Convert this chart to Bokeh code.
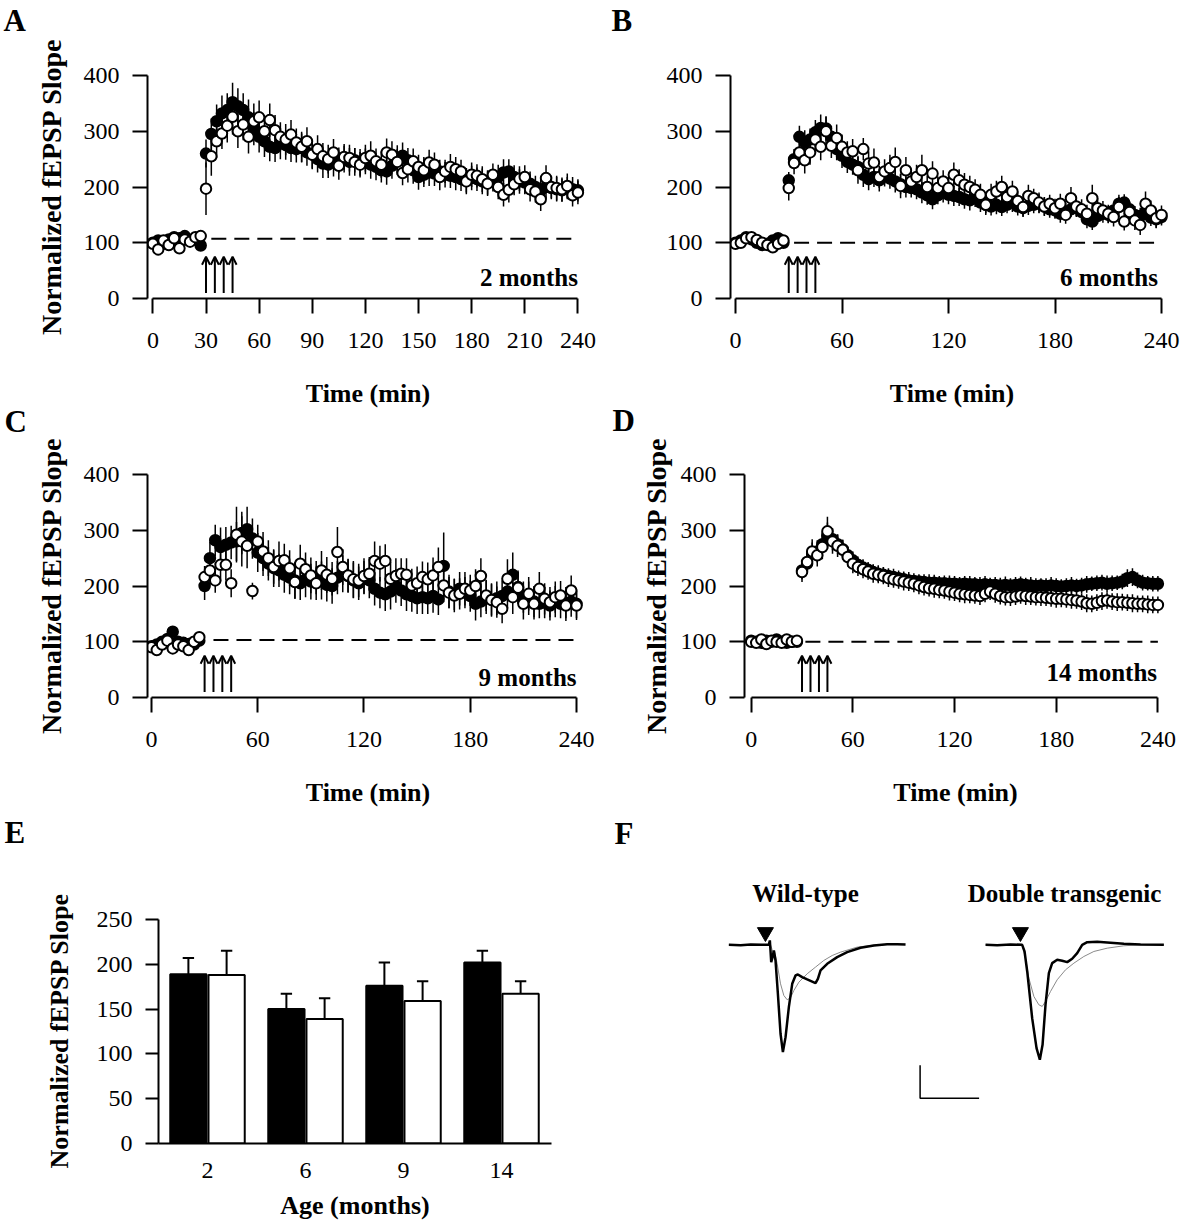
import numpy as np
from bokeh.plotting import figure
from bokeh.models import ColumnDataSource, FixedTicker, Arrow, OpenHead, Range1d
from bokeh.layouts import column, row
from bokeh.embed import file_html
from bokeh.resources import INLINE
from bokeh.core.properties import value

FONT = "Liberation Serif"

# ---------------- data ----------------
TIME = list(range(0, 241, 3))          # min
STIM = [30, 35, 40, 45]                # tetanus trains (min)

A_WT = [100, 104, 98, 106, 110, 108, 112, 104, 106, 95,
        260, 295, 318, 332, 338, 352, 345, 338, 325, 305,
        290, 282, 272, 270, 278, 275, 270, 268, 270, 262,
        258, 250, 242, 240, 244, 248, 250, 245, 248, 244,
        246, 240, 236, 230, 228, 238, 250, 256, 248, 230,
        218, 222, 226, 224, 228, 222, 220, 218, 214, 212,
        216, 214, 210, 208, 212, 218, 226, 228, 218, 210,
        208, 206, 200, 194, 200, 198, 196, 194, 198, 196,
        194]
A_TG = [98, 88, 104, 96, 108, 90, 106, 102, 110, 112,
        197, 255, 282, 296, 310, 326, 300, 312, 290, 318,
        325, 300, 320, 302, 290, 285, 294, 280, 272, 282,
        258, 268, 255, 250, 262, 238, 254, 252, 245, 240,
        252, 256, 246, 240, 262, 258, 245, 225, 232, 246,
        236, 230, 244, 240, 218, 228, 236, 232, 228, 210,
        222, 220, 214, 206, 222, 200, 186, 195, 205, 215,
        218, 196, 192, 178, 216, 200, 198, 196, 202, 185,
        190]
A_WT_SEM = [6, 7, 5, 8, 6, 7, 6, 8, 7, 6,
            25, 28, 30, 32, 30, 35, 32, 30, 32, 30,
            28, 28, 26, 25, 28, 26, 25, 24, 26, 24,
            25, 24, 26, 24, 25, 23, 24, 25, 22, 24,
            23, 25, 24, 22, 24, 23, 25, 24, 22, 24,
            23, 22, 24, 22, 21, 23, 22, 24, 21, 22,
            22, 21, 23, 22, 20, 22, 24, 22, 21, 22,
            21, 22, 20, 22, 21, 20, 22, 21, 20, 22,
            20]
A_TG_SEM = [8, 9, 7, 8, 9, 8, 7, 9, 8, 7,
            47, 35, 30, 28, 30, 32, 30, 28, 30, 32,
            30, 28, 30, 27, 26, 28, 26, 25, 27, 25,
            26, 25, 24, 26, 24, 25, 23, 24, 25, 23,
            24, 26, 23, 24, 25, 24, 23, 22, 24, 23,
            22, 24, 23, 22, 24, 21, 23, 22, 21, 23,
            22, 21, 23, 22, 20, 22, 21, 23, 20, 22,
            21, 22, 20, 21, 23, 20, 22, 21, 22, 20,
            21]

B_WT = [100, 104, 110, 106, 100, 96, 98, 104, 108, 100,
        212, 250, 290, 280, 285, 298, 306, 305, 290, 268,
        256, 245, 240, 236, 222, 214, 218, 212, 220, 215,
        210, 205, 200, 198, 196, 190, 185, 178, 185, 190,
        186, 184, 182, 178, 176, 180, 172, 168, 165, 168,
        164, 168, 172, 165, 162, 166, 168, 170, 165, 160,
        158, 152, 156, 160, 162, 155, 142, 138, 148, 152,
        150, 158, 170, 172, 160, 150, 148, 155, 145, 142,
        146]
B_TG = [98, 100, 108, 110, 105, 100, 96, 92, 98, 104,
        198, 243, 262, 248, 262, 285, 272, 300, 274, 288,
        272, 262, 264, 230, 268, 242, 244, 218, 228, 234,
        245, 202, 230, 210, 218, 230, 200, 224, 198, 210,
        198, 222, 212, 204, 200, 195, 186, 168, 186, 192,
        200, 182, 192, 175, 164, 184, 180, 172, 165, 170,
        162, 170, 150, 180, 165, 160, 152, 180, 162, 158,
        152, 146, 164, 138, 155, 140, 132, 170, 158, 144,
        150]
B_WT_SEM = [5, 6, 5, 7, 6, 5, 6, 7, 5, 6,
            15, 18, 20, 22, 20, 22, 24, 22, 20, 20,
            22, 20, 18, 20, 22, 20, 18, 20, 19, 18,
            20, 18, 19, 17, 18, 19, 17, 18, 16, 18,
            17, 18, 16, 17, 18, 16, 17, 15, 16, 17,
            16, 15, 17, 16, 15, 16, 15, 17, 16, 15,
            15, 16, 15, 14, 16, 15, 16, 15, 14, 16,
            15, 14, 16, 15, 14, 16, 15, 14, 15, 16,
            15]
B_TG_SEM = [6, 7, 6, 8, 7, 6, 7, 8, 6, 7,
            22, 20, 22, 24, 22, 25, 24, 26, 22, 24,
            22, 20, 22, 24, 20, 22, 25, 20, 22, 24,
            26, 22, 24, 20, 22, 28, 20, 22, 21, 20,
            20, 22, 20, 21, 20, 19, 20, 18, 20, 19,
            20, 18, 19, 17, 18, 20, 17, 18, 17, 16,
            17, 18, 16, 20, 17, 18, 16, 24, 18, 17,
            16, 17, 18, 16, 18, 17, 18, 22, 18, 17,
            17]

C_WT = [92, 95, 100, 105, 118, 100, 98, 96, 95, 102,
        200, 250, 282, 270, 274, 278, 280, 295, 302, 285,
        260, 250, 240, 232, 228, 220, 215, 210, 205, 212,
        208, 215, 210, 202, 200, 215, 222, 218, 210, 205,
        215, 210, 195, 188, 185, 190, 200, 192, 185, 182,
        178, 180, 178, 182, 176, 236, 190, 185, 195, 188,
        182, 168, 172, 180, 175, 178, 182, 190, 220, 198,
        180, 178, 172, 168, 170, 165, 172, 168, 170, 172,
        168]
C_TG = [90, 85, 95, 102, 88, 95, 92, 85, 100, 108,
        216, 228, 210, 238, 238, 205, 292, 280, 272, 191,
        280, 262, 250, 234, 245, 246, 232, 207, 240, 230,
        219, 205, 228, 220, 213, 261, 234, 219, 212, 210,
        218, 222, 245, 240, 245, 213, 218, 222, 220, 201,
        205, 216, 212, 219, 234, 201, 188, 183, 186, 195,
        192, 200, 218, 183, 175, 171, 159, 213, 180, 197,
        168, 186, 168, 195, 177, 171, 180, 183, 165, 192,
        165]
C_WT_SEM = [8, 7, 9, 8, 10, 8, 7, 9, 8, 7,
            25, 30, 28, 35, 32, 30, 35, 38, 40, 36,
            35, 32, 30, 34, 30, 32, 30, 33, 30, 32,
            32, 30, 34, 30, 32, 30, 33, 30, 32, 30,
            30, 32, 30, 28, 30, 32, 30, 28, 30, 28,
            28, 30, 28, 30, 28, 60, 30, 28, 30, 28,
            28, 30, 28, 30, 28, 30, 28, 30, 40, 30,
            28, 30, 28, 26, 28, 27, 28, 26, 28, 27,
            26]
C_TG_SEM = [9, 8, 10, 9, 8, 10, 9, 8, 9, 8,
            20, 25, 22, 30, 28, 25, 50, 45, 40, 15,
            30, 35, 32, 30, 35, 30, 32, 30, 34, 30,
            32, 30, 35, 32, 30, 45, 32, 30, 33, 30,
            32, 30, 35, 32, 30, 30, 32, 28, 30, 30,
            30, 28, 30, 32, 35, 30, 28, 30, 28, 30,
            28, 30, 32, 28, 30, 28, 26, 35, 30, 28,
            28, 30, 28, 30, 28, 27, 28, 26, 28, 27,
            26]

D_WT = [102, 100, 98, 102, 100, 104, 100, 98, 100, 100,
        228, 240, 258, 262, 275, 290, 284, 275, 266, 255,
        246, 238, 233, 229, 225, 222, 220, 218, 216, 214,
        212, 210, 209, 208, 207, 206, 206, 205, 205, 204,
        204, 203, 204, 203, 203, 202, 203, 202, 202, 201,
        202, 201, 202, 203, 202, 201, 200, 201, 200, 201,
        200, 199, 200, 201, 200, 201, 203, 204, 205, 206,
        204, 205, 206, 208, 214, 216, 210, 206, 205, 204,
        204]
D_TG = [100, 98, 104, 96, 102, 100, 98, 104, 100, 102,
        225, 243, 262, 255, 270, 298, 280, 272, 265, 252,
        240, 234, 230, 226, 222, 220, 218, 214, 212, 210,
        208, 206, 204, 201, 198, 196, 195, 193, 192, 190,
        188, 186, 185, 184, 183, 182, 186, 190, 186, 182,
        180, 180, 181, 183, 182, 181, 180, 180, 179, 178,
        177, 177, 176, 175, 174, 172, 169, 168, 170, 173,
        174, 172, 171, 171, 170, 169, 168, 168, 167, 166,
        166]
D_WT_SEM = [4, 5, 4, 5, 4, 5, 4, 5, 4, 5,
            16, 18, 20, 20, 22, 24, 20, 18, 17, 16,
            16, 15, 15, 14, 14, 15, 14, 14, 15, 14,
            14, 15, 14, 13, 14, 15, 14, 13, 14, 15,
            14, 13, 14, 15, 13, 14, 15, 13, 14, 14,
            15, 13, 14, 14, 13, 15, 14, 13, 14, 15,
            14, 13, 14, 15, 13, 14, 15, 13, 14, 14,
            15, 14, 13, 14, 16, 16, 14, 14, 13, 14,
            14]
D_TG_SEM = [5, 6, 5, 6, 5, 6, 5, 6, 5, 6,
            18, 20, 22, 20, 22, 26, 22, 20, 18, 17,
            17, 16, 16, 15, 16, 15, 15, 16, 15, 15,
            16, 15, 15, 16, 15, 15, 16, 15, 15, 16,
            15, 15, 16, 15, 15, 16, 15, 15, 16, 15,
            15, 16, 15, 15, 16, 15, 15, 16, 15, 15,
            16, 15, 15, 16, 15, 15, 16, 15, 15, 16,
            15, 15, 16, 15, 15, 16, 15, 15, 16, 15,
            15]

BASELINE = [107, 100, 103, 100]
AGE_TEXT = ["2 months", "6 months", "9 months", "14 months"]

# panel E
AGE = ["2", "6", "9", "14"]
WT_MEAN = [189, 150, 176, 202]
WT_SEM = [18, 17, 26, 13]
TG_MEAN = [188, 139, 159, 167]
TG_SEM = [27, 23, 22, 14]

# panel F  (time in ms from stimulus, amplitude in mV)
WT_THICK_T = [-6.5, -4.5, -2.8, -0.85, 0.28, 0.45, 0.56, 0.68, 0.9, 1.13, 1.41, 1.81, 2.26, 2.66, 3.11,
              3.67, 4.24, 4.8, 5.2, 5.93, 6.78, 8.19, 8.59, 9.04, 10.17, 11.86, 13.56, 15.82, 18.08,
              20.34, 22.03, 23.45]
WT_THICK_V = [0, -0.005, 0.005, 0, 0, 0.066, -0.086, -0.263, -0.187, -0.086, -0.237, -0.742, -1.348,
              -1.626, -1.399, -0.944, -0.591, -0.465, -0.449, -0.49, -0.525, -0.581, -0.515, -0.389,
              -0.288, -0.187, -0.111, -0.045, -0.01, 0.01, 0.01, 0.005]
WT_THIN_T = [-6.5, -0.85, 0.56, 0.85, 1.02, 1.24, 1.69, 2.26, 2.82, 3.39, 3.95, 4.52, 5.37, 6.78, 8.19,
             9.6, 11.02, 12.43, 15.25, 18.08, 20.34]
WT_THIN_V = [0, 0, 0, -0.076, -0.136, -0.096, -0.288, -0.591, -0.768, -0.833, -0.803, -0.692, -0.566,
             -0.439, -0.338, -0.237, -0.162, -0.111, -0.035, -0.005, 0.005]
DT_THICK_T = [-6.21, -4.24, -1.98, 0, 0.4, 0.85, 1.69, 2.43, 2.99, 3.45, 3.95, 4.52, 5.08, 5.93, 6.78,
              7.63, 8.47, 9.32, 10.17, 11.02, 12.71, 14.97, 17.23, 20.06, 24.01]
DT_THICK_V = [0, -0.005, 0.005, 0, -0.101, -0.404, -1.111, -1.566, -1.742, -1.515, -0.909, -0.429,
              -0.278, -0.227, -0.242, -0.263, -0.212, -0.126, 0, 0.04, 0.045, 0.03, 0.015, 0.005, 0]
DT_THIN_T = [-6.21, 0, 0.56, 1.13, 1.98, 2.82, 3.39, 3.95, 4.8, 5.93, 7.34, 8.76, 10.45, 12.15, 14.41,
             17.23, 20.06, 24.01]
DT_THIN_V = [0, 0, -0.202, -0.505, -0.783, -0.909, -0.934, -0.859, -0.707, -0.53, -0.379, -0.278,
             -0.177, -0.101, -0.051, -0.015, 0, 0]
SCALE_MS = 10
SCALE_MV = 0.5

PANEL_LETTERS_L = ["A", "C", "E"]
PANEL_LETTERS_R = ["B", "D", "F"]

TICK_FONT = "24px"
LW = 32        # width of the panel-letter strips
PAGE_H = 1222
R1, R2, R3 = 0, 411, 812   # row tops (page pixels)


# ---------------- helpers ----------------
def bare_fig(w, h, xr, yr):
    p = figure(width=w, height=h, x_range=Range1d(*xr), y_range=Range1d(*yr),
               x_axis_type=None, y_axis_type=None, output_backend="svg", toolbar_location=None,
               title=None, min_border_left=0, min_border_right=0, min_border_top=0, min_border_bottom=0)
    p.outline_line_color = None
    return p


def letter_strip(letters, xs, ys):
    p = bare_fig(LW, PAGE_H, (0, LW), (PAGE_H, 0))
    p.text(x=xs, y=ys, text=letters, text_align="left", text_baseline="middle",
           text_font=value(FONT), text_font_style="bold", text_font_size="31px", text_color="black")
    return column(p)


def style_axis(ax, tick_out):
    ax.axis_line_width = 2
    ax.axis_line_color = "black"
    ax.major_tick_line_width = 2
    ax.major_tick_line_color = "black"
    ax.major_tick_out = tick_out
    ax.major_tick_in = 0
    ax.minor_tick_out = 0
    ax.minor_tick_in = 0
    ax.major_label_text_font = FONT
    ax.major_label_text_font_size = TICK_FONT
    ax.major_label_text_color = "black"
    ax.axis_label_text_font = FONT
    ax.axis_label_text_font_style = "bold"
    ax.axis_label_text_color = "black"


def timecourse(g, wt, tg, wt_sem, tg_sem, base, age_text, age_pos, xticks, ylabel, ylab_standoff,
               dash_start):
    fw, fh = 443, 224
    sx, sy = g["sx"], g["sy"]
    x_start = -(g["x0"] - g["fl"]) / sx
    x_end = x_start + fw / sx
    y_end = fh / sy
    left = g["fl"] - g["ox"]
    top = g["fb"] - fh - g["oy"]
    p = figure(width=g["w"], height=g["h"], x_range=Range1d(x_start, x_end), y_range=Range1d(0, y_end),
               output_backend="svg", toolbar_location=None, title=None,
               min_border_left=left, min_border_right=g["w"] - left - fw,
               min_border_top=top, min_border_bottom=g["h"] - top - fh)
    p.grid.visible = False
    p.outline_line_color = None
    style_axis(p.xaxis[0], 15)
    style_axis(p.yaxis[0], 15)
    p.xaxis.ticker = FixedTicker(ticks=xticks)
    p.yaxis.ticker = FixedTicker(ticks=[0, 100, 200, 300, 400])
    p.xaxis.bounds = (0, 240)
    p.yaxis.bounds = (0, 400)
    p.xaxis.major_label_standoff = 19
    p.yaxis.major_label_standoff = 13
    p.xaxis.axis_label = "Time (min)"
    p.xaxis.axis_label_text_font_size = "26px"
    p.xaxis.axis_label_standoff = 28
    if ylabel:
        p.yaxis.axis_label = "Normalized fEPSP Slope"
        p.yaxis.axis_label_text_font_size = "28px"
        p.yaxis.axis_label_standoff = ylab_standoff

    t = np.array(TIME, dtype=float)
    srcs = []
    for vals, sem in [(wt, wt_sem), (tg, tg_sem)]:
        v = np.array(vals, dtype=float)
        e = np.array(sem, dtype=float)
        srcs.append(ColumnDataSource(dict(t=t, v=v, lo=v - e, hi=v + e)))
    for s in srcs:
        p.segment(x0="t", y0="lo", x1="t", y1="hi", source=s, line_color="black", line_width=1.5)
    p.scatter(x="t", y="v", source=srcs[0], marker="circle", size=10.5, fill_color="black",
              line_color="black", line_width=2)
    p.scatter(x="t", y="v", source=srcs[1], marker="circle", size=10.5, fill_color="white",
              line_color="black", line_width=2)

    p.segment(x0=[dash_start], y0=[base], x1=[240], y1=[base], line_color="black", line_width=2,
              line_dash="15 8")

    asrc = ColumnDataSource(dict(x=STIM, y0=[10] * len(STIM), y1=[75] * len(STIM)))
    p.add_layout(Arrow(end=OpenHead(size=8, line_width=2, line_color="black"), source=asrc,
                       x_start="x", y_start="y0", x_end="x", y_end="y1",
                       line_width=2, line_color="black"))

    p.text(x=[age_pos[0]], y=[age_pos[1]], text=[age_text], text_align="right", text_baseline="middle",
           text_font=value(FONT), text_font_style="bold", text_font_size="25px", text_color="black")
    return p


# page geometry (page pixels): figure origin, size, frame left, frame bottom, pixel of t=0, scales
GA = dict(ox=LW, oy=R1, w=605 - LW, h=R2 - R1, fl=145, fb=298, x0=150.4, sx=1.779, sy=0.5575)
GB = dict(ox=605 + LW, oy=R1, w=593 - LW, h=R2 - R1, fl=730, fb=298, x0=735, sx=1.775, sy=0.5575)
GC = dict(ox=LW, oy=R2, w=605 - LW, h=R3 - R2, fl=145, fb=697, x0=149, sx=1.779, sy=0.5575)
GD = dict(ox=605 + LW, oy=R2, w=593 - LW, h=R3 - R2, fl=723, fb=697, x0=730, sx=1.779, sy=0.5575)

XT30 = list(range(0, 241, 30))
XT60 = list(range(0, 241, 60))

pA = timecourse(GA, A_WT, A_TG, A_WT_SEM, A_TG_SEM, BASELINE[0], AGE_TEXT[0], (240, 38), XT30,
                True, 14, 33)
pB = timecourse(GB, B_WT, B_TG, B_WT_SEM, B_TG_SEM, BASELINE[1], AGE_TEXT[1], (238, 38), XT60,
                False, 0, 33)
pC = timecourse(GC, C_WT, C_TG, C_WT_SEM, C_TG_SEM, BASELINE[2], AGE_TEXT[2], (240, 36), XT60,
                True, 14, 35)
pD = timecourse(GD, D_WT, D_TG, D_WT_SEM, D_TG_SEM, BASELINE[3], AGE_TEXT[3], (239.5, 45), XT60,
                True, 6, 32)

# ---------------- panel E ----------------
E_oy, E_h, E_w = R3, PAGE_H - R3, 605 - LW
E_fl, E_fb, E_sx, E_sy = 158, 1143, 98.0, 0.896
E_fw, E_fh = 393, 226
E_left = E_fl - LW
E_top = E_fb - E_fh - E_oy
pE = figure(width=E_w, height=E_h, x_range=Range1d(0, E_fw / E_sx), y_range=Range1d(0, E_fh / E_sy),
            output_backend="svg", toolbar_location=None, title=None,
            min_border_left=E_left, min_border_right=E_w - E_left - E_fw,
            min_border_top=E_top, min_border_bottom=E_h - E_top - E_fh)
pE.grid.visible = False
pE.outline_line_color = None
style_axis(pE.xaxis[0], 0)
style_axis(pE.yaxis[0], 13)
pE.yaxis.ticker = FixedTicker(ticks=[0, 50, 100, 150, 200, 250])
pE.yaxis.bounds = (0, 250)
pE.yaxis.major_label_standoff = 13
pE.yaxis.axis_label = "Normalized fEPSP Slope"
pE.yaxis.axis_label_text_font_size = "26px"
pE.yaxis.axis_label_standoff = 20
xc = np.arange(len(AGE)) + 0.5
pE.xaxis.ticker = FixedTicker(ticks=list(xc))
pE.xaxis.major_label_overrides = {float(x): a for x, a in zip(xc, AGE)}
pE.xaxis.major_label_standoff = 19
pE.xaxis.axis_label = "Age (months)"
pE.xaxis.axis_label_text_font_size = "26px"
pE.xaxis.axis_label_standoff = 10

OFF, BW, CAP = 0.195, 0.37, 0.058
for sign, mean, sem, fill in [(-1, WT_MEAN, WT_SEM, "black"), (1, TG_MEAN, TG_SEM, "white")]:
    xb = xc + sign * OFF
    m = np.array(mean, dtype=float)
    hi = m + np.array(sem, dtype=float)
    src = ColumnDataSource(dict(x=xb, top=m, hi=hi, cl=xb - CAP, cr=xb + CAP))
    pE.segment(x0="x", y0="top", x1="x", y1="hi", source=src, line_color="black", line_width=2)
    pE.segment(x0="cl", y0="hi", x1="cr", y1="hi", source=src, line_color="black", line_width=2)
    pE.vbar(x="x", top="top", bottom=0, width=BW, source=src, fill_color=fill, line_color="black",
            line_width=2)

# ---------------- panel F ----------------
F_stim_px, F_base_py, F_sx, F_sy = 766.7, 944.3, 5.9, 66.0
F_ox, F_oy, F_w, F_h = 605 + LW, R3, 593 - LW, PAGE_H - R3
pF = bare_fig(F_w, F_h,
              ((F_ox - F_stim_px) / F_sx, (F_ox + F_w - F_stim_px) / F_sx),
              ((F_base_py - (F_oy + F_h)) / F_sy, (F_base_py - F_oy) / F_sy))
DT_OFFSET = 255 / F_sx
pF.line(WT_THIN_T, WT_THIN_V, line_color="#8a8a8a", line_width=1)
pF.line(np.array(DT_THIN_T) + DT_OFFSET, DT_THIN_V, line_color="#8a8a8a", line_width=1)
pF.line(WT_THICK_T, WT_THICK_V, line_color="black", line_width=2.5)
pF.line(np.array(DT_THICK_T) + DT_OFFSET, DT_THICK_V, line_color="black", line_width=2.5)
pF.scatter(x=[-0.3, DT_OFFSET - 0.3], y=[0.19, 0.19], marker="inverted_triangle", size=16,
           fill_color="black", line_color="black")
pF.text(x=[(805 - F_stim_px) / F_sx, (1064 - F_stim_px) / F_sx], y=[0.78, 0.78],
        text=["Wild-type", "Double transgenic"], text_align="center", text_baseline="middle",
        text_font=value(FONT), text_font_style="bold", text_font_size="25px", text_color="black")
sb_x = (919.6 - F_stim_px) / F_sx
sb_y = (F_base_py - 1097.7) / F_sy
pF.line(x=[sb_x, sb_x, sb_x + SCALE_MS], y=[sb_y + SCALE_MV, sb_y, sb_y], line_color="black",
        line_width=1.5)

# ---------------- layout ----------------
stripL = letter_strip(PANEL_LETTERS_L, [3, 4, 4], [20, 421, 832])
stripR = letter_strip(PANEL_LETTERS_R, [6, 7, 9], [20, 420, 833])
left_col = column(row(pA), row(pC), row(pE))
right_col = column(row(pB), row(pD), row(pF))

layout = row(stripL, left_col, stripR, right_col)
open("out.html", "w").write(file_html(layout, INLINE))
